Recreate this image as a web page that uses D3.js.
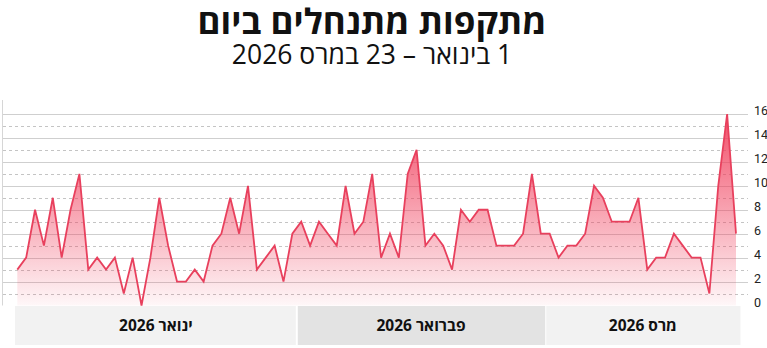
<!DOCTYPE html>
<html lang="he">
<head>
<meta charset="utf-8">
<script src="https://cdn.jsdelivr.net/npm/d3@7"></script>
<style>
  html, body { margin: 0; padding: 0; background: #fff; }
  svg { display: block; font-family: 'Open Sans', 'Noto Sans', sans-serif; }
</style>
</head>
<body>
<div id="chart"></div>
<script>
// attacks per day, 1 Jan .. 23 Mar 2026
const startDate = new Date(Date.UTC(2026, 0, 1));
const attacks = [
  3, 4, 8, 5, 9, 4, 8, 11, 3, 4, 3, 4, 1, 4, 0, 4, 9, 5, 2, 2, 3, 2, 5, 6, 9, 6, 10, 3,
  4, 5, 2, 6, 7, 5, 7, 6, 5, 10, 6, 7, 11, 4, 6, 4, 11, 13, 5, 6, 5, 3, 8, 7, 8, 8, 5, 5,
  5, 6, 11, 6, 6, 4, 5, 5, 6, 10, 9, 7, 7, 7, 9, 3, 4, 4, 6, 5, 4, 4, 1, 10, 16, 6
];
const months = ['ינואר 2026', 'פברואר 2026', 'מרס 2026'];
const monthStarts = [new Date(Date.UTC(2026, 0, 1)), new Date(Date.UTC(2026, 1, 1)), new Date(Date.UTC(2026, 2, 1))];
const monthFills = ['#f2f2f2', '#e3e3e3', '#f2f2f2'];
const yTicks = [0, 2, 4, 6, 8, 10, 12, 14, 16];

const title = 'מתקפות מתנחלים ביום';
const subtitle = '1 בינואר – 23 במרס 2026';

const width = 767;
const height = 348;

const data = attacks.map((v, i) => ({
  date: d3.utcDay.offset(startDate, i),
  value: v
}));
const lastDate = data[data.length - 1].date;

const x = d3.scaleUtc()
  .domain([startDate, lastDate])
  .range([17.3, 736]);

const y = d3.scaleLinear()
  .domain([0, 16])
  .range([305.5, 114]);

const svg = d3.select('#chart').append('svg')
  .attr('width', width)
  .attr('height', height);

// titles
svg.append('text')
  .attr('x', 372)
  .attr('y', 34)
  .attr('text-anchor', 'middle')
  .style('direction', 'rtl')
  .style('font-size', '35px')
  .style('font-weight', 'bold')
  .style('fill', '#111')
  .text(title);

svg.append('text')
  .attr('x', 372)
  .attr('y', 64)
  .attr('text-anchor', 'middle')
  .style('direction', 'rtl')
  .style('font-size', '26.5px')
  .style('fill', '#111')
  .text(subtitle);

// grid: solid on even values, dashed on odd ones
const gridVals = d3.range(1, 17);
svg.append('g')
  .selectAll('line')
  .data(gridVals)
  .join('line')
  .attr('x1', 3)
  .attr('x2', 748)
  .attr('y1', d => Math.round(y(d)) + 0.5)
  .attr('y2', d => Math.round(y(d)) + 0.5)
  .attr('stroke', d => d % 2 === 0 ? '#cfcfcf' : '#c4c4c4')
  .attr('stroke-width', 1)
  .attr('stroke-dasharray', d => d % 2 === 0 ? null : '3,3');

// left edge
svg.append('line')
  .attr('x1', 2.5).attr('x2', 2.5)
  .attr('y1', 100).attr('y2', y(0))
  .attr('stroke', '#d6d6d6');

// y labels on the right
const yAxis = svg.append('g')
  .attr('transform', 'translate(754,0)')
  .call(d3.axisRight(y).tickValues(yTicks).tickSize(0).tickPadding(0));
yAxis.select('.domain').remove();
yAxis.selectAll('text')
  .attr('dy', '0.05em')
  .style('font-family', 'Roboto, sans-serif')
  .style('font-size', '12.5px')
  .style('fill', '#222');

// month bands (boundaries sit half a day after each month's first point)
const dayW = x(d3.utcDay.offset(startDate, 1)) - x(startDate);
const edges = [x(startDate) - 2.3]
  .concat(monthStarts.slice(1).map(d => x(d) + dayW / 2))
  .concat([x(lastDate) + dayW / 2]);
const bands = months.map((m, i) => ({
  label: m,
  x0: edges[i],
  x1: edges[i + 1],
  fill: monthFills[i]
}));

const bandG = svg.append('g');
bandG.selectAll('rect')
  .data(bands)
  .join('rect')
  .attr('x', (d, i) => i === 0 ? d.x0 : d.x0 + 1)
  .attr('y', 306)
  .attr('width', d => d.x1 - d.x0 - 1)
  .attr('height', 39)
  .attr('fill', d => d.fill);

bandG.selectAll('text')
  .data(bands)
  .join('text')
  .attr('x', d => (d.x0 + d.x1) / 2)
  .attr('y', 330.5)
  .attr('text-anchor', 'middle')
  .style('direction', 'rtl')
  .style('font-size', '15.5px')
  .style('font-weight', 'bold')
  .style('fill', '#111')
  .text(d => d.label);

// area gradient
const defs = svg.append('defs');
const grad = defs.append('linearGradient')
  .attr('id', 'areaGrad')
  .attr('gradientUnits', 'userSpaceOnUse')
  .attr('x1', 0).attr('x2', 0)
  .attr('y1', y(16)).attr('y2', y(0));
grad.append('stop').attr('offset', '0%').attr('stop-color', '#f03a58').attr('stop-opacity', 0.9);
grad.append('stop').attr('offset', '100%').attr('stop-color', '#f03a58').attr('stop-opacity', 0.04);

const area = d3.area()
  .x(d => x(d.date))
  .y0(y(0))
  .y1(d => y(d.value));

const line = d3.line()
  .x(d => x(d.date))
  .y(d => y(d.value));

svg.append('path')
  .datum(data)
  .attr('d', area)
  .attr('fill', 'url(#areaGrad)');

svg.append('path')
  .datum(data)
  .attr('d', line)
  .attr('fill', 'none')
  .attr('stroke', '#e8405d')
  .attr('stroke-width', 1.8);
</script>
</body>
</html>
